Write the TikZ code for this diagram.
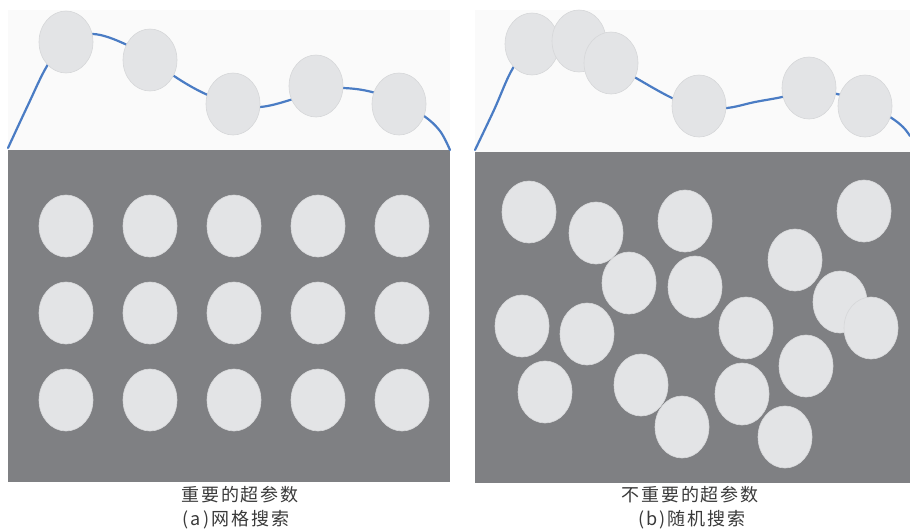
\documentclass[tikz,border=0pt]{standalone}
\usepackage{fontspec}
\newfontfamily\cjk[LetterSpace=11]{Noto Sans CJK SC}
\usetikzlibrary{shapes.geometric}
\definecolor{panel}{HTML}{7F8083}
\definecolor{dot}{HTML}{E3E4E6}
\definecolor{dotedge}{HTML}{D6D7D9}
\definecolor{curve}{HTML}{4A7CC4}
\definecolor{topbg}{HTML}{FAFAFA}
\definecolor{txt}{HTML}{3A3A3A}
\tikzset{
  blob/.style={ellipse, fill=dot, draw=dotedge, line width=0.6pt, minimum width=54pt, minimum height=62pt, inner sep=0pt},
  panelbox/.style={fill=panel, draw=none},
  curveline/.style={draw=curve, line width=2.2pt, line cap=round},
  caption/.style={font=\cjk\fontsize{18}{21}\selectfont, text=txt, inner sep=0pt}
}
\begin{document}
\begin{tikzpicture}[x=1pt,y=-1pt]
\useasboundingbox (0,0) rectangle (910,531);
\fill[white] (0,0) rectangle (910,531);
% top backgrounds
\fill[topbg] (8,10) rectangle (450,150);
\fill[topbg] (475,10) rectangle (910,152);
% panels
\node[panelbox, minimum width=442pt, minimum height=332pt, inner sep=0pt, anchor=north west] (pa) at (8,150) {};
\node[panelbox, minimum width=436pt, minimum height=331pt, inner sep=0pt, anchor=north west] (pb) at (475,152) {};
% curves
\draw[curveline] plot[smooth, tension=0.6] coordinates {(8,148) (28,105) (47,66) (66,42) (93,34) (125,44) (150,60) (185,83) (210,96) (233,104) (260,107) (290,100) (316,90) (343,88) (372,92) (400,103) (424,116) (440,131) (450,150)};
\draw[curveline] plot[smooth, tension=0.6] coordinates {(475,150) (494,110) (513,68) (532,48) (560,40) (590,55) (611,63) (636,78) (672,98) (699,108) (727,108) (755,102) (782,97) (809,90) (837,94) (865,103) (890,117) (903,127) (910,136)};
% top left blobs
\node[blob] (t1) at (66,42) {};
\node[blob] (t2) at (150,60) {};
\node[blob] (t3) at (233,104) {};
\node[blob] (t4) at (316,86) {};
\node[blob] (t5) at (399,104) {};
% top right blobs
\node[blob] (u1) at (532,44) {};
\node[blob] (u2) at (579,41) {};
\node[blob] (u3) at (611,63) {};
\node[blob] (u4) at (699,106) {};
\node[blob] (u5) at (809,88) {};
\node[blob] (u6) at (865,106) {};
% grid blobs
\foreach \i/\x in {1/66,2/150,3/234,4/318,5/402}{
  \foreach \j/\y in {1/226,2/313,3/400}{
    \node[blob] (g\i\j) at (\x,\y) {};
  }
}
% random blobs
\node[blob] (r1) at (529,212) {};
\node[blob] (r2) at (596,233) {};
\node[blob] (r3) at (685,221) {};
\node[blob] (r4) at (864,211) {};
\node[blob] (r5) at (795,260) {};
\node[blob] (r6) at (629,283) {};
\node[blob] (r7) at (695,287) {};
\node[blob] (r8) at (840,302) {};
\node[blob] (r9) at (871,328) {};
\node[blob] (r10) at (522,326) {};
\node[blob] (r11) at (587,334) {};
\node[blob] (r12) at (746,328) {};
\node[blob] (r13) at (806,366) {};
\node[blob] (r14) at (545,392) {};
\node[blob] (r15) at (641,385) {};
\node[blob] (r16) at (742,394) {};
\node[blob] (r17) at (682,427) {};
\node[blob] (r18) at (785,437) {};
% captions
\node[caption] (ca1) at (240,495) {重要的超参数};
\node[caption] (ca2) at (236,520) {(a)网格搜索};
\node[caption] (cb1) at (690,495) {不重要的超参数};
\node[caption] (cb2) at (692,520) {(b)随机搜索};
\end{tikzpicture}
\end{document}
